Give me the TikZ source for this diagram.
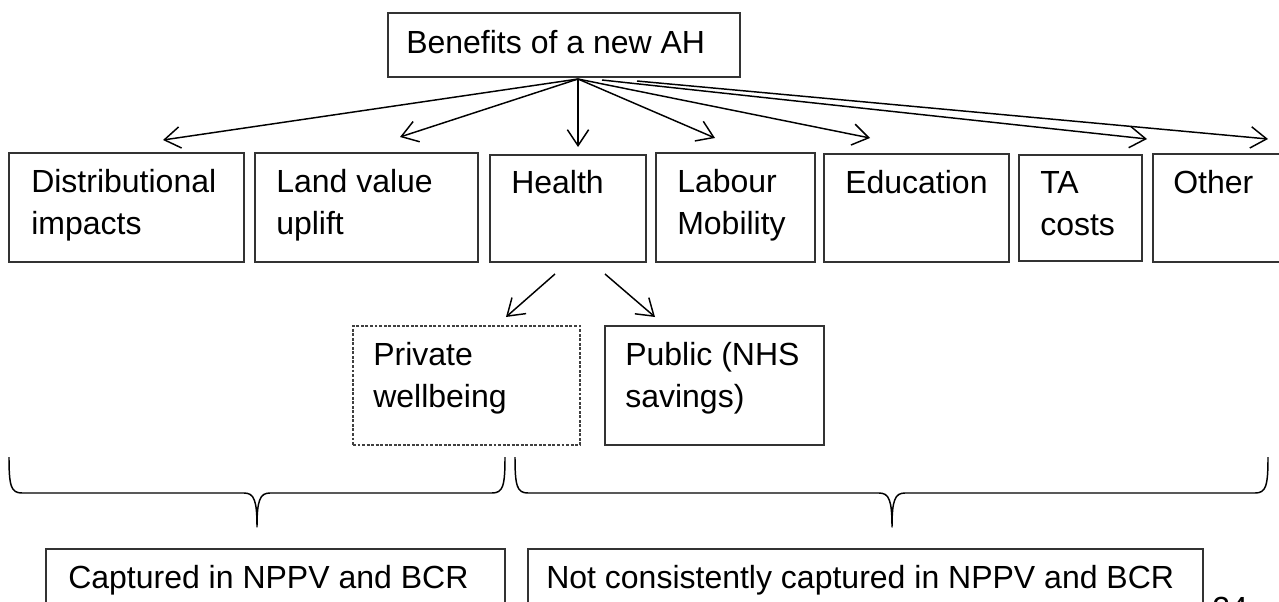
\documentclass[tikz,border=0pt]{standalone}
\usepackage{fontspec}
\setmainfont{Liberation Sans}
\usetikzlibrary{arrows.meta,fit}
\tikzset{
  boxst/.style={draw=black!80, line width=1.1pt, inner sep=0pt},
  dotbox/.style={draw=black!75, line width=0.8pt, dash pattern=on 2.2pt off 1.2pt, inner sep=0pt},
  txt/.style={anchor=base west, inner sep=0pt, font=\fontsize{24}{31.5}\selectfont},
  arr/.style={-{Straight Barb[length=12pt,width=16pt,line width=1.1pt]}, line width=1.1pt},
  bracest/.style={line width=1.1pt, line join=round}
}
\newcommand\tx[4]{\node[txt] (#1) at (#2,#3) {\begin{tabular}[t]{@{}l@{}}#4\end{tabular}};}
\begin{document}
\begin{tikzpicture}[x=0.75pt,y=-0.75pt]
\useasboundingbox (0,0) rectangle (1279,601);
% top
\node[boxst, fit={(388,13) (740,77)}] (top) {};
\tx{top-t}{406}{53}{Benefits of a new AH}
% row 1
\node[boxst, fit={(9,153) (244,262)}] (dist) {};
\tx{dist-t}{31}{192}{Distributional\\impacts}
\node[boxst, fit={(255,153) (478,262)}] (land) {};
\tx{land-t}{276}{192}{Land value\\uplift}
\node[boxst, fit={(490,155) (646,262)}] (health) {};
\tx{health-t}{511}{193}{Health}
\node[boxst, fit={(656,153) (815,262)}] (labour) {};
\tx{labour-t}{677}{192}{Labour\\Mobility}
\node[boxst, fit={(824,154) (1009,262)}] (edu) {};
\tx{edu-t}{845}{193}{Education}
\node[boxst, fit={(1019,155) (1142,261)}] (ta) {};
\tx{ta-t}{1040}{193}{TA\\costs}
\node[boxst, fit={(1153,154) (1295,262)}] (other) {};
\tx{other-t}{1173}{193}{Other}
% row 2
\node[dotbox, fit={(353,326) (580,445)}] (priv) {};
\tx{priv-t}{373}{365}{Private\\wellbeing}
\node[boxst, fit={(605,326) (824,445)}] (pub) {};
\tx{pub-t}{625}{365}{Public (NHS\\savings)}
% bottom
\node[boxst, fit={(46,549) (505,640)}] (capt) {};
\tx{capt-t}{68}{588}{Captured in NPPV and BCR}
\node[boxst, fit={(528,549) (1203,640)}] (notc) {};
\tx{notc-t}{546}{588}{Not consistently captured in NPPV and BCR}
\node[txt] (pg) at (1212,619) {24};
% arrows from top
\coordinate (o) at (578,79);
\coordinate (o2) at (602,80);
\coordinate (o3) at (637,81);
\coordinate (dist-in) at (163,140);
\coordinate (land-in) at (400,137);
\coordinate (health-in) at (578,147);
\coordinate (labour-in) at (715,138);
\coordinate (edu-in) at (870,138);
\coordinate (ta-in) at (1147,139);
\coordinate (other-in) at (1268,139);
\draw[arr] (o) -- (dist-in);
\draw[arr] (o) -- (land-in);
\draw[arr] (o) -- (health-in);
\draw[arr] (o) -- (labour-in);
\draw[arr] (o) -- (edu-in);
\draw[arr] (o2) -- (ta-in);
\draw[arr] (o3) -- (other-in);
% health arrows
\coordinate (h1) at (555,274);
\coordinate (h2) at (605,274);
\coordinate (priv-in) at (506,317);
\coordinate (pub-in) at (655,317);
\draw[arr] (h1) -- (priv-in);
\draw[arr] (h2) -- (pub-in);
% braces
\draw[bracest] (9,457) .. controls (9,486) and (11,493) .. (22,493) -- (244,493)
  .. controls (254,493) and (257,500) .. (257,527)
  .. controls (257,500) and (260,493) .. (270,493) -- (492,493)
  .. controls (503,493) and (505,486) .. (505,457);
\draw[bracest] (515,457) .. controls (515,486) and (517,493) .. (528,493) -- (879,493)
  .. controls (889,493) and (892,500) .. (892,527)
  .. controls (892,500) and (895,493) .. (905,493) -- (1255,493)
  .. controls (1266,493) and (1268,486) .. (1268,457);
\end{tikzpicture}
\end{document}
